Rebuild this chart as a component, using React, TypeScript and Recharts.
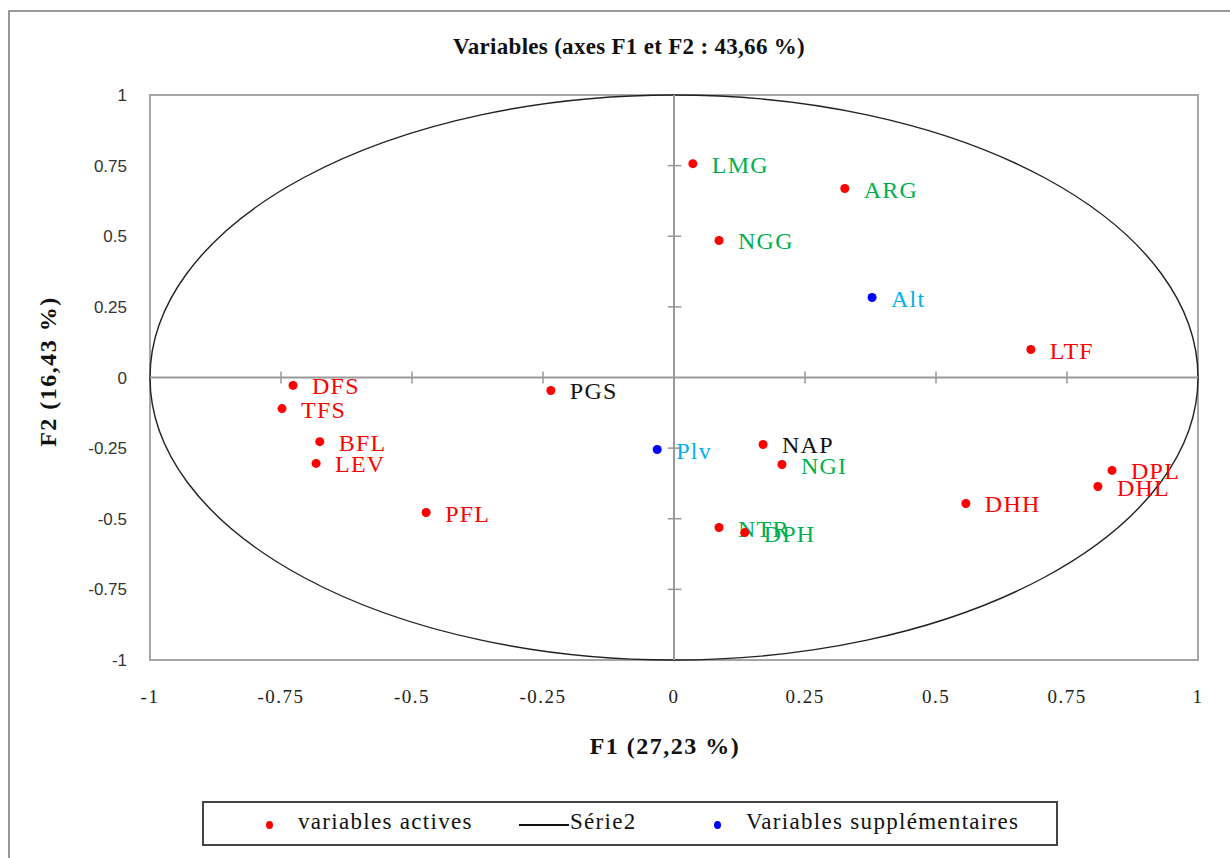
import {
	ScatterChart,
	Scatter,
	XAxis,
	YAxis,
	ReferenceLine,
	ReferenceArea,
} from 'recharts'

// Active variables (F1, F2 coordinates)
const activeNames = ['LMG', 'ARG', 'NGG', 'LTF', 'DFS', 'TFS', 'BFL', 'LEV', 'PFL', 'PGS', 'NAP', 'NGI', 'NTR', 'DPH', 'DHH', 'DPL', 'DHL']
const activeF1 = [0.036, 0.326, 0.086, 0.681, -0.727, -0.748, -0.676, -0.683, -0.473, -0.235, 0.17, 0.206, 0.086, 0.135, 0.557, 0.836, 0.809]
const activeF2 = [0.757, 0.669, 0.485, 0.099, -0.028, -0.11, -0.227, -0.304, -0.478, -0.046, -0.237, -0.308, -0.531, -0.549, -0.446, -0.329, -0.386]

// Supplementary variables
const suppNames = ['Alt', 'Plv']
const suppF1 = [0.378, -0.032]
const suppF2 = [0.283, -0.255]

// label colour groups
const greenLabels = ['LMG', 'ARG', 'NGG', 'NGI', 'NTR', 'DPH']
const blackLabels = ['PGS', 'NAP']

const axisTicks = [-1, -0.75, -0.5, -0.25, 0, 0.25, 0.5, 0.75, 1]
const innerTicks = [-0.75, -0.5, -0.25, 0.25, 0.5, 0.75]

const activeData = activeNames.map((name, i) => ({ name, x: activeF1[i], y: activeF2[i] }))
const suppData = suppNames.map((name, i) => ({ name, x: suppF1[i], y: suppF2[i] }))

const SERIF = '"Liberation Serif", "Times New Roman", serif'

function labelColor(name: string, supp: boolean) {
	if (supp) return '#00b0f0'
	if (greenLabels.includes(name)) return '#00b050'
	if (blackLabels.includes(name)) return '#111111'
	return '#ff0000'
}

function makeDot(fill: string, supp: boolean) {
	return (props: any) => {
		const { cx, cy, payload } = props
		return (
			<g>
				<circle cx={cx} cy={cy} r={4.5} fill={fill} />
				<text
					x={cx + 19}
					y={cy + 9}
					fill={labelColor(payload.name, supp)}
					fontFamily={SERIF}
					fontSize={24}
					letterSpacing={1.2}
				>
					{payload.name}
				</text>
			</g>
		)
	}
}

function EllipseShape(props: any) {
	const { x, y, width, height } = props
	return (
		<ellipse
			cx={x + width / 2}
			cy={y + height / 2}
			rx={width / 2}
			ry={height / 2}
			fill="none"
			stroke="#222"
			strokeWidth={1.4}
		/>
	)
}

const legendText = {
	position: 'absolute' as const,
	top: 6,
	whiteSpace: 'nowrap' as const,
	fontFamily: SERIF,
	fontSize: 23,
	letterSpacing: 1.3,
	color: '#111',
}

export default function App() {
	return (
		<div
			style={{
				position: 'absolute',
				left: 0,
				top: 0,
				width: 1230,
				height: 858,
				background: '#fff',
				overflow: 'hidden',
			}}
		>
			{/* outer frame */}
			<div
				style={{
					position: 'absolute',
					left: 8,
					top: 10,
					width: 1240,
					height: 860,
					borderLeft: '2px solid #999',
					borderTop: '2px solid #999',
				}}
			/>
			<div
				style={{
					position: 'absolute',
					top: 34,
					left: 0,
					width: 1258,
					textAlign: 'center',
					fontFamily: SERIF,
					fontWeight: 'bold',
					fontSize: 23,
					letterSpacing: 0.3,
					color: '#111',
					whiteSpace: 'nowrap',
				}}
			>
				Variables (axes F1 et F2 : 43,66 %)
			</div>
			<ScatterChart
				width={1230}
				height={858}
				margin={{ top: 95, right: 32, bottom: 138, left: 80 }}
				style={{ position: 'absolute', left: 0, top: 0 }}
			>
				<XAxis
					type="number"
					dataKey="x"
					domain={[-1, 1]}
					ticks={axisTicks}
					allowDataOverflow
					axisLine={false}
					tickLine={false}
					height={60}
					tickMargin={24}
					tick={{ fontFamily: SERIF, fontSize: 19, fill: '#222', letterSpacing: 1.5 }}
				/>
				<YAxis
					type="number"
					dataKey="y"
					domain={[-1, 1]}
					ticks={axisTicks}
					allowDataOverflow
					axisLine={false}
					tickLine={false}
					width={70}
					tickMargin={17}
					tick={{ fontFamily: '"Liberation Sans", Arial, sans-serif', fontSize: 17, fill: '#333' }}
				/>
				<ReferenceArea x1={-1} x2={1} y1={-1} y2={1} fill="none" stroke="#a6a6a6" strokeWidth={2} />
				<ReferenceLine x={0} stroke="#999" strokeWidth={2} />
				<ReferenceLine y={0} stroke="#999" strokeWidth={2} />
				{innerTicks.map((t) => (
					<ReferenceLine
						key={`xt-${t}`}
						segment={[
							{ x: t, y: -0.021 },
							{ x: t, y: 0.021 },
						]}
						stroke="#999"
						strokeWidth={1.5}
					/>
				))}
				{innerTicks.map((t) => (
					<ReferenceLine
						key={`yt-${t}`}
						segment={[
							{ x: -0.012, y: t },
							{ x: 0.014, y: t },
						]}
						stroke="#999"
						strokeWidth={1.5}
					/>
				))}
				<ReferenceArea x1={-1} x2={1} y1={-1} y2={1} shape={EllipseShape} />
				<Scatter
					name="variables actives"
					data={activeData}
					fill="#ff0000"
					shape={makeDot('#ff0000', false)}
					isAnimationActive={false}
				/>
				<Scatter
					name="Variables supplémentaires"
					data={suppData}
					fill="#0000ff"
					shape={makeDot('#0000ff', true)}
					isAnimationActive={false}
				/>
			</ScatterChart>
			{/* axis titles */}
			<div
				style={{
					position: 'absolute',
					top: 733,
					left: 465,
					width: 400,
					textAlign: 'center',
					fontFamily: SERIF,
					fontWeight: 'bold',
					fontSize: 24,
					letterSpacing: 1.5,
					color: '#111',
					whiteSpace: 'nowrap',
				}}
			>
				F1 (27,23 %)
			</div>
			<div
				style={{
					position: 'absolute',
					top: 358,
					left: -152,
					width: 400,
					textAlign: 'center',
					fontFamily: SERIF,
					fontWeight: 'bold',
					fontSize: 24,
					letterSpacing: 1.5,
					color: '#111',
					whiteSpace: 'nowrap',
					transform: 'rotate(-90deg)',
				}}
			>
				F2 (16,43 %)
			</div>
			{/* legend */}
			<div
				style={{
					position: 'absolute',
					left: 202,
					top: 801,
					width: 852,
					height: 41,
					border: '2px solid #444',
				}}
			>
				<span style={{ position: 'absolute', left: 62, top: 18, width: 7, height: 8, borderRadius: '50%', background: '#ff0000' }} />
				<span style={{ ...legendText, left: 94 }}>variables actives</span>
				<span style={{ position: 'absolute', left: 315, top: 21, width: 50, height: 2, background: '#111' }} />
				<span style={{ ...legendText, left: 366 }}>Série2</span>
				<span style={{ position: 'absolute', left: 510, top: 18, width: 7, height: 8, borderRadius: '50%', background: '#0000ff' }} />
				<span style={{ ...legendText, left: 542 }}>Variables supplémentaires</span>
			</div>
		</div>
	)
}
